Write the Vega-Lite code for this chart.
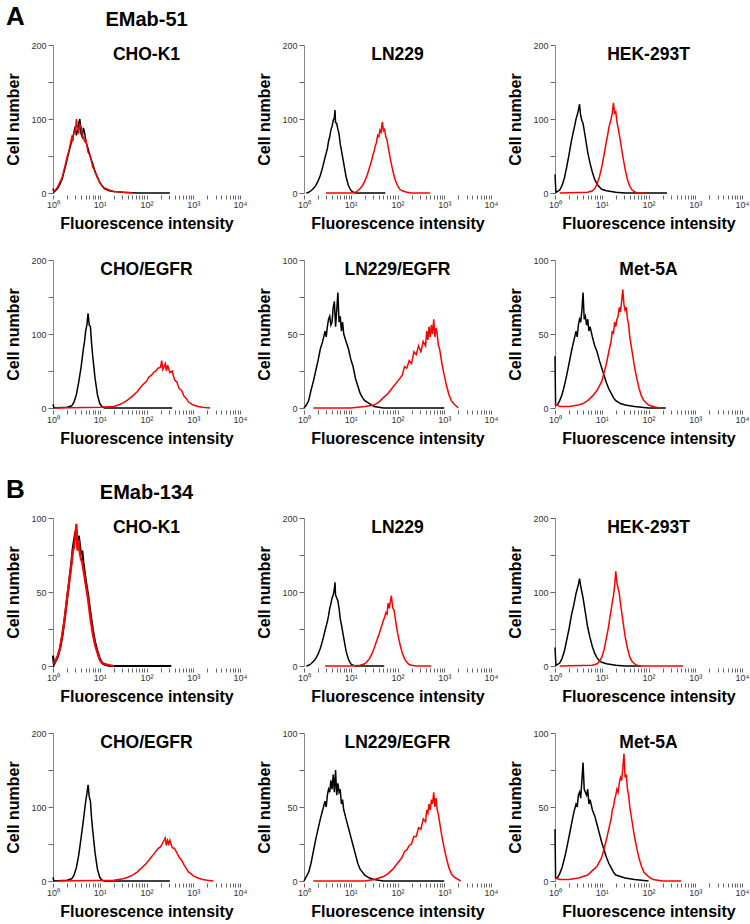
{
"$schema":"https://vega.github.io/schema/vega-lite/v6.json",
"padding":{"left":5,"right":2,"top":3,"bottom":1},
"config":{
 "font":"Liberation Sans",
 "view":{"stroke":null,"continuousWidth":187,"continuousHeight":148},
 "line":{"strokeWidth":1.5},
 "axis":{"grid":false,"labelFont":"Liberation Sans","labelFontSize":9,"labelColor":"#333333","titleFont":"Liberation Sans","titleFontSize":16,"titleFontWeight":"bold","titleColor":"#000000","tickColor":"#666666","domainColor":"#888888"},
 "axisX":{"domain":false,"offset":2,"tickSize":4,"labelPadding":1,"labelFlush":false,"labelOverlap":false,"titlePadding":6},
 "axisY":{"tickSize":5,"labelPadding":2,"titlePadding":9,"labelOverlap":false},
 "title":{"font":"Liberation Sans","fontSize":17.5,"fontWeight":"bold","color":"#000000","anchor":"middle","frame":"group","offset":-22,"subtitleFont":"Liberation Sans","subtitleFontSize":17.5,"subtitleFontWeight":"bold","subtitleColor":"#000000","subtitlePadding":16}
},
"datasets":{
"a1":[{"c":"k","x":1,"y":6},{"c":"k","x":1.047,"y":1},{"c":"k","x":1.122,"y":3},{"c":"k","x":1.259,"y":6},{"c":"k","x":1.413,"y":12},{"c":"k","x":1.585,"y":20},{"c":"k","x":1.778,"y":32},{"c":"k","x":1.995,"y":45},{"c":"k","x":2.239,"y":58},{"c":"k","x":2.512,"y":70},{"c":"k","x":2.661,"y":76},{"c":"k","x":2.818,"y":82},{"c":"k","x":2.985,"y":90},{"c":"k","x":3.162,"y":78},{"c":"k","x":3.35,"y":84},{"c":"k","x":3.548,"y":95},{"c":"k","x":3.758,"y":100},{"c":"k","x":3.981,"y":80},{"c":"k","x":4.217,"y":76},{"c":"k","x":4.467,"y":88},{"c":"k","x":4.732,"y":82},{"c":"k","x":5.012,"y":70},{"c":"k","x":5.623,"y":60},{"c":"k","x":6.31,"y":48},{"c":"k","x":7.079,"y":40},{"c":"k","x":7.943,"y":28},{"c":"k","x":8.913,"y":22},{"c":"k","x":10,"y":14},{"c":"k","x":11.22,"y":10},{"c":"k","x":12.59,"y":6},{"c":"k","x":15.85,"y":3},{"c":"k","x":19.95,"y":2},{"c":"k","x":31.62,"y":1},{"c":"k","x":63.1,"y":0},{"c":"k","x":316,"y":0},
{"c":"r","x":1,"y":2},{"c":"r","x":1.122,"y":4},{"c":"r","x":1.259,"y":8},{"c":"r","x":1.413,"y":15},{"c":"r","x":1.585,"y":22},{"c":"r","x":1.778,"y":35},{"c":"r","x":1.995,"y":48},{"c":"r","x":2.239,"y":60},{"c":"r","x":2.512,"y":75},{"c":"r","x":2.661,"y":70},{"c":"r","x":2.818,"y":85},{"c":"r","x":2.985,"y":80},{"c":"r","x":3.162,"y":100},{"c":"r","x":3.35,"y":86},{"c":"r","x":3.548,"y":82},{"c":"r","x":3.758,"y":92},{"c":"r","x":3.981,"y":90},{"c":"r","x":4.217,"y":78},{"c":"r","x":4.467,"y":75},{"c":"r","x":4.732,"y":70},{"c":"r","x":5.012,"y":72},{"c":"r","x":5.623,"y":55},{"c":"r","x":6.31,"y":50},{"c":"r","x":7.079,"y":35},{"c":"r","x":7.943,"y":30},{"c":"r","x":8.913,"y":20},{"c":"r","x":10,"y":15},{"c":"r","x":11.22,"y":9},{"c":"r","x":12.59,"y":7},{"c":"r","x":15.85,"y":4},{"c":"r","x":19.95,"y":2},{"c":"r","x":31.62,"y":1},{"c":"r","x":50.1,"y":0}],
"a2":[{"c":"k","x":1.122,"y":0},{"c":"k","x":1.259,"y":1},{"c":"k","x":1.413,"y":3},{"c":"k","x":1.585,"y":6},{"c":"k","x":1.778,"y":10},{"c":"k","x":1.995,"y":16},{"c":"k","x":2.239,"y":24},{"c":"k","x":2.512,"y":35},{"c":"k","x":2.818,"y":48},{"c":"k","x":3.162,"y":60},{"c":"k","x":3.35,"y":70},{"c":"k","x":3.548,"y":76},{"c":"k","x":3.758,"y":85},{"c":"k","x":3.981,"y":90},{"c":"k","x":4.217,"y":98},{"c":"k","x":4.467,"y":102},{"c":"k","x":4.6,"y":112},{"c":"k","x":4.732,"y":95},{"c":"k","x":5.012,"y":94},{"c":"k","x":5.309,"y":86},{"c":"k","x":5.623,"y":80},{"c":"k","x":5.957,"y":66},{"c":"k","x":6.31,"y":58},{"c":"k","x":7.079,"y":40},{"c":"k","x":7.943,"y":22},{"c":"k","x":8.913,"y":10},{"c":"k","x":10,"y":4},{"c":"k","x":11.22,"y":1},{"c":"k","x":12.59,"y":0},{"c":"k","x":55,"y":0},
{"c":"r","x":2.95,"y":0},{"c":"r","x":10,"y":0},{"c":"r","x":12.59,"y":1},{"c":"r","x":14.13,"y":3},{"c":"r","x":15.85,"y":6},{"c":"r","x":17.78,"y":10},{"c":"r","x":19.95,"y":16},{"c":"r","x":22.39,"y":24},{"c":"r","x":25.12,"y":34},{"c":"r","x":28.18,"y":45},{"c":"r","x":29.85,"y":52},{"c":"r","x":31.62,"y":56},{"c":"r","x":33.5,"y":64},{"c":"r","x":35.48,"y":68},{"c":"r","x":37.58,"y":78},{"c":"r","x":39.81,"y":76},{"c":"r","x":42.17,"y":85},{"c":"r","x":44.67,"y":82},{"c":"r","x":47.32,"y":96},{"c":"r","x":50.12,"y":84},{"c":"r","x":53.09,"y":86},{"c":"r","x":56.23,"y":76},{"c":"r","x":59.57,"y":72},{"c":"r","x":63.1,"y":62},{"c":"r","x":70.79,"y":45},{"c":"r","x":79.43,"y":30},{"c":"r","x":89.13,"y":18},{"c":"r","x":100,"y":10},{"c":"r","x":112.2,"y":5},{"c":"r","x":125.9,"y":3},{"c":"r","x":158.5,"y":1},{"c":"r","x":199.5,"y":0},{"c":"r","x":500,"y":0}],
"a3":[{"c":"k","x":1,"y":25},{"c":"k","x":1.047,"y":1},{"c":"k","x":1.122,"y":2},{"c":"k","x":1.259,"y":4},{"c":"k","x":1.413,"y":10},{"c":"k","x":1.585,"y":20},{"c":"k","x":1.778,"y":35},{"c":"k","x":1.995,"y":52},{"c":"k","x":2.239,"y":70},{"c":"k","x":2.512,"y":85},{"c":"k","x":2.661,"y":92},{"c":"k","x":2.818,"y":100},{"c":"k","x":2.985,"y":105},{"c":"k","x":3.162,"y":112},{"c":"k","x":3.35,"y":120},{"c":"k","x":3.548,"y":104},{"c":"k","x":3.758,"y":98},{"c":"k","x":3.981,"y":94},{"c":"k","x":4.467,"y":75},{"c":"k","x":5.012,"y":55},{"c":"k","x":5.623,"y":40},{"c":"k","x":6.31,"y":28},{"c":"k","x":7.079,"y":18},{"c":"k","x":7.943,"y":12},{"c":"k","x":8.913,"y":8},{"c":"k","x":10,"y":5},{"c":"k","x":12.59,"y":3},{"c":"k","x":15.85,"y":2},{"c":"k","x":19.95,"y":1},{"c":"k","x":31.62,"y":0},{"c":"k","x":250,"y":0},
{"c":"r","x":1.259,"y":0},{"c":"r","x":5.012,"y":1},{"c":"r","x":6.31,"y":3},{"c":"r","x":7.079,"y":6},{"c":"r","x":7.943,"y":12},{"c":"r","x":8.913,"y":22},{"c":"r","x":10,"y":35},{"c":"r","x":11.22,"y":52},{"c":"r","x":12.59,"y":70},{"c":"r","x":13.34,"y":78},{"c":"r","x":14.13,"y":88},{"c":"r","x":14.96,"y":94},{"c":"r","x":15.85,"y":100},{"c":"r","x":16.79,"y":108},{"c":"r","x":17.78,"y":122},{"c":"r","x":18.84,"y":108},{"c":"r","x":19.95,"y":110},{"c":"r","x":21.13,"y":96},{"c":"r","x":22.39,"y":88},{"c":"r","x":25.12,"y":70},{"c":"r","x":28.18,"y":50},{"c":"r","x":31.62,"y":32},{"c":"r","x":35.48,"y":18},{"c":"r","x":39.81,"y":9},{"c":"r","x":44.67,"y":4},{"c":"r","x":50.12,"y":2},{"c":"r","x":56.23,"y":0},{"c":"r","x":87,"y":0}],
"a4":[{"c":"k","x":1,"y":5},{"c":"k","x":1.047,"y":0},{"c":"k","x":1.995,"y":1},{"c":"k","x":2.512,"y":3},{"c":"k","x":2.818,"y":8},{"c":"k","x":3.162,"y":18},{"c":"k","x":3.548,"y":35},{"c":"k","x":3.981,"y":55},{"c":"k","x":4.467,"y":80},{"c":"k","x":4.732,"y":90},{"c":"k","x":5.012,"y":105},{"c":"k","x":5.309,"y":112},{"c":"k","x":5.623,"y":128},{"c":"k","x":5.957,"y":112},{"c":"k","x":6.31,"y":110},{"c":"k","x":6.683,"y":88},{"c":"k","x":7.079,"y":70},{"c":"k","x":7.943,"y":40},{"c":"k","x":8.913,"y":18},{"c":"k","x":10,"y":6},{"c":"k","x":11.22,"y":2},{"c":"k","x":12.59,"y":0},{"c":"k","x":355,"y":0},
{"c":"r","x":1.122,"y":0},{"c":"r","x":10,"y":1},{"c":"r","x":19.95,"y":2},{"c":"r","x":25.12,"y":4},{"c":"r","x":31.62,"y":7},{"c":"r","x":39.81,"y":11},{"c":"r","x":50.12,"y":16},{"c":"r","x":63.1,"y":22},{"c":"r","x":79.43,"y":30},{"c":"r","x":100,"y":36},{"c":"r","x":112.2,"y":42},{"c":"r","x":125.9,"y":44},{"c":"r","x":141.3,"y":48},{"c":"r","x":158.5,"y":50},{"c":"r","x":177.8,"y":54},{"c":"r","x":199.5,"y":55},{"c":"r","x":211.3,"y":64},{"c":"r","x":223.9,"y":52},{"c":"r","x":251.2,"y":60},{"c":"r","x":266.1,"y":50},{"c":"r","x":281.8,"y":58},{"c":"r","x":316.2,"y":48},{"c":"r","x":354.8,"y":50},{"c":"r","x":398.1,"y":38},{"c":"r","x":446.7,"y":35},{"c":"r","x":501.2,"y":26},{"c":"r","x":562.3,"y":24},{"c":"r","x":631,"y":16},{"c":"r","x":707.9,"y":13},{"c":"r","x":794.3,"y":8},{"c":"r","x":891.3,"y":6},{"c":"r","x":1000,"y":4},{"c":"r","x":1259,"y":2},{"c":"r","x":1585,"y":1},{"c":"r","x":2291,"y":0}],
"a5":[{"c":"k","x":1,"y":0},{"c":"k","x":1.122,"y":2},{"c":"k","x":1.259,"y":5},{"c":"k","x":1.413,"y":12},{"c":"k","x":1.585,"y":18},{"c":"k","x":1.778,"y":25},{"c":"k","x":1.995,"y":32},{"c":"k","x":2.239,"y":40},{"c":"k","x":2.512,"y":45},{"c":"k","x":2.818,"y":52},{"c":"k","x":2.985,"y":48},{"c":"k","x":3.162,"y":55},{"c":"k","x":3.35,"y":60},{"c":"k","x":3.548,"y":62},{"c":"k","x":3.758,"y":56},{"c":"k","x":3.981,"y":58},{"c":"k","x":4.217,"y":68},{"c":"k","x":4.467,"y":72},{"c":"k","x":4.732,"y":55},{"c":"k","x":5.012,"y":66},{"c":"k","x":5.309,"y":78},{"c":"k","x":5.623,"y":58},{"c":"k","x":5.957,"y":62},{"c":"k","x":6.31,"y":52},{"c":"k","x":6.683,"y":58},{"c":"k","x":7.079,"y":50},{"c":"k","x":7.943,"y":45},{"c":"k","x":8.913,"y":40},{"c":"k","x":10,"y":33},{"c":"k","x":11.22,"y":28},{"c":"k","x":12.59,"y":20},{"c":"k","x":14.13,"y":15},{"c":"k","x":15.85,"y":10},{"c":"k","x":17.78,"y":7},{"c":"k","x":19.95,"y":5},{"c":"k","x":25.12,"y":3},{"c":"k","x":31.62,"y":1},{"c":"k","x":50,"y":0},{"c":"k","x":1000,"y":0},
{"c":"r","x":1.585,"y":0},{"c":"r","x":10,"y":0},{"c":"r","x":19.95,"y":1},{"c":"r","x":31.62,"y":2},{"c":"r","x":39.81,"y":4},{"c":"r","x":50.12,"y":7},{"c":"r","x":63.1,"y":10},{"c":"r","x":79.43,"y":14},{"c":"r","x":100,"y":18},{"c":"r","x":125.9,"y":22},{"c":"r","x":141.3,"y":28},{"c":"r","x":158.5,"y":27},{"c":"r","x":177.8,"y":32},{"c":"r","x":199.5,"y":30},{"c":"r","x":223.9,"y":38},{"c":"r","x":251.2,"y":36},{"c":"r","x":281.8,"y":42},{"c":"r","x":316.2,"y":38},{"c":"r","x":354.8,"y":45},{"c":"r","x":398.1,"y":42},{"c":"r","x":421.7,"y":52},{"c":"r","x":446.7,"y":46},{"c":"r","x":473.2,"y":55},{"c":"r","x":501.2,"y":48},{"c":"r","x":531,"y":56},{"c":"r","x":562.3,"y":50},{"c":"r","x":595.7,"y":60},{"c":"r","x":631,"y":48},{"c":"r","x":668,"y":54},{"c":"r","x":707.9,"y":50},{"c":"r","x":750,"y":42},{"c":"r","x":794.3,"y":40},{"c":"r","x":891.3,"y":30},{"c":"r","x":1000,"y":22},{"c":"r","x":1122,"y":15},{"c":"r","x":1259,"y":9},{"c":"r","x":1413,"y":5},{"c":"r","x":1585,"y":3},{"c":"r","x":1995,"y":0}],
"a6":[{"c":"k","x":1,"y":35},{"c":"k","x":1.03,"y":2},{"c":"k","x":1.122,"y":2},{"c":"k","x":1.259,"y":5},{"c":"k","x":1.413,"y":9},{"c":"k","x":1.585,"y":15},{"c":"k","x":1.778,"y":22},{"c":"k","x":1.995,"y":30},{"c":"k","x":2.239,"y":38},{"c":"k","x":2.512,"y":45},{"c":"k","x":2.818,"y":52},{"c":"k","x":2.985,"y":48},{"c":"k","x":3.162,"y":56},{"c":"k","x":3.35,"y":60},{"c":"k","x":3.548,"y":58},{"c":"k","x":3.758,"y":66},{"c":"k","x":3.981,"y":78},{"c":"k","x":4.217,"y":60},{"c":"k","x":4.467,"y":62},{"c":"k","x":4.732,"y":56},{"c":"k","x":5.012,"y":60},{"c":"k","x":5.309,"y":52},{"c":"k","x":5.623,"y":55},{"c":"k","x":6.31,"y":48},{"c":"k","x":7.079,"y":42},{"c":"k","x":7.943,"y":38},{"c":"k","x":8.913,"y":32},{"c":"k","x":10,"y":27},{"c":"k","x":11.22,"y":22},{"c":"k","x":12.59,"y":17},{"c":"k","x":14.13,"y":13},{"c":"k","x":15.85,"y":10},{"c":"k","x":17.78,"y":7},{"c":"k","x":19.95,"y":5},{"c":"k","x":25.12,"y":3},{"c":"k","x":31.62,"y":2},{"c":"k","x":50.12,"y":1},{"c":"k","x":100,"y":0},{"c":"k","x":234,"y":0},
{"c":"r","x":1,"y":3},{"c":"r","x":1.259,"y":1},{"c":"r","x":1.995,"y":1},{"c":"r","x":3.162,"y":2},{"c":"r","x":3.981,"y":3},{"c":"r","x":5.012,"y":5},{"c":"r","x":6.31,"y":8},{"c":"r","x":7.943,"y":12},{"c":"r","x":10,"y":18},{"c":"r","x":11.22,"y":24},{"c":"r","x":12.59,"y":30},{"c":"r","x":14.13,"y":38},{"c":"r","x":15.85,"y":45},{"c":"r","x":16.79,"y":52},{"c":"r","x":17.78,"y":50},{"c":"r","x":18.84,"y":58},{"c":"r","x":19.95,"y":55},{"c":"r","x":21.13,"y":60},{"c":"r","x":22.39,"y":62},{"c":"r","x":23.71,"y":68},{"c":"r","x":25.12,"y":65},{"c":"r","x":26.61,"y":72},{"c":"r","x":28.18,"y":80},{"c":"r","x":29.85,"y":70},{"c":"r","x":31.62,"y":66},{"c":"r","x":33.5,"y":68},{"c":"r","x":35.48,"y":60},{"c":"r","x":37.58,"y":56},{"c":"r","x":39.81,"y":48},{"c":"r","x":44.67,"y":38},{"c":"r","x":50.12,"y":28},{"c":"r","x":56.23,"y":20},{"c":"r","x":63.1,"y":13},{"c":"r","x":70.79,"y":8},{"c":"r","x":79.43,"y":5},{"c":"r","x":100,"y":2},{"c":"r","x":125.9,"y":1},{"c":"r","x":170,"y":0}],
"b1":[{"c":"k","x":1,"y":7},{"c":"k","x":1.047,"y":1},{"c":"k","x":1.122,"y":3},{"c":"k","x":1.259,"y":6},{"c":"k","x":1.413,"y":12},{"c":"k","x":1.585,"y":20},{"c":"k","x":1.778,"y":32},{"c":"k","x":1.995,"y":45},{"c":"k","x":2.239,"y":58},{"c":"k","x":2.512,"y":72},{"c":"k","x":2.661,"y":80},{"c":"k","x":2.818,"y":85},{"c":"k","x":2.985,"y":90},{"c":"k","x":3.162,"y":92},{"c":"k","x":3.35,"y":80},{"c":"k","x":3.548,"y":88},{"c":"k","x":3.758,"y":82},{"c":"k","x":3.981,"y":75},{"c":"k","x":4.217,"y":78},{"c":"k","x":4.467,"y":70},{"c":"k","x":5.012,"y":58},{"c":"k","x":5.623,"y":48},{"c":"k","x":6.31,"y":36},{"c":"k","x":7.079,"y":25},{"c":"k","x":7.943,"y":16},{"c":"k","x":8.913,"y":10},{"c":"k","x":10,"y":5},{"c":"k","x":11.22,"y":2},{"c":"k","x":12.59,"y":1},{"c":"k","x":15.85,"y":0},{"c":"k","x":340,"y":0},
{"c":"r","x":1,"y":2},{"c":"r","x":1.122,"y":3},{"c":"r","x":1.259,"y":7},{"c":"r","x":1.413,"y":12},{"c":"r","x":1.585,"y":22},{"c":"r","x":1.778,"y":32},{"c":"r","x":1.995,"y":46},{"c":"r","x":2.239,"y":58},{"c":"r","x":2.512,"y":70},{"c":"r","x":2.661,"y":78},{"c":"r","x":2.818,"y":80},{"c":"r","x":2.985,"y":88},{"c":"r","x":3.162,"y":96},{"c":"r","x":3.35,"y":78},{"c":"r","x":3.548,"y":85},{"c":"r","x":3.758,"y":76},{"c":"r","x":3.981,"y":72},{"c":"r","x":4.217,"y":70},{"c":"r","x":4.467,"y":65},{"c":"r","x":4.732,"y":60},{"c":"r","x":5.012,"y":55},{"c":"r","x":5.623,"y":45},{"c":"r","x":6.31,"y":32},{"c":"r","x":7.079,"y":22},{"c":"r","x":7.943,"y":14},{"c":"r","x":8.913,"y":9},{"c":"r","x":10,"y":4},{"c":"r","x":11.22,"y":2},{"c":"r","x":14.13,"y":1},{"c":"r","x":19.95,"y":0}],
"b2":[{"c":"k","x":1.122,"y":0},{"c":"k","x":1.259,"y":1},{"c":"k","x":1.413,"y":3},{"c":"k","x":1.585,"y":6},{"c":"k","x":1.778,"y":10},{"c":"k","x":1.995,"y":16},{"c":"k","x":2.239,"y":24},{"c":"k","x":2.512,"y":35},{"c":"k","x":2.818,"y":48},{"c":"k","x":3.162,"y":60},{"c":"k","x":3.35,"y":68},{"c":"k","x":3.548,"y":78},{"c":"k","x":3.758,"y":84},{"c":"k","x":3.981,"y":92},{"c":"k","x":4.217,"y":96},{"c":"k","x":4.467,"y":104},{"c":"k","x":4.6,"y":113},{"c":"k","x":4.732,"y":96},{"c":"k","x":5.012,"y":92},{"c":"k","x":5.309,"y":88},{"c":"k","x":5.623,"y":78},{"c":"k","x":5.957,"y":64},{"c":"k","x":6.31,"y":56},{"c":"k","x":7.079,"y":38},{"c":"k","x":7.943,"y":20},{"c":"k","x":8.913,"y":9},{"c":"k","x":10,"y":3},{"c":"k","x":11.22,"y":1},{"c":"k","x":12.59,"y":0},{"c":"k","x":52,"y":0},
{"c":"r","x":2.82,"y":0},{"c":"r","x":10,"y":0},{"c":"r","x":15.85,"y":1},{"c":"r","x":19.95,"y":3},{"c":"r","x":22.39,"y":6},{"c":"r","x":25.12,"y":10},{"c":"r","x":28.18,"y":16},{"c":"r","x":31.62,"y":24},{"c":"r","x":35.48,"y":33},{"c":"r","x":39.81,"y":42},{"c":"r","x":44.67,"y":52},{"c":"r","x":50.12,"y":62},{"c":"r","x":53.09,"y":66},{"c":"r","x":56.23,"y":72},{"c":"r","x":59.57,"y":70},{"c":"r","x":63.1,"y":85},{"c":"r","x":66.83,"y":78},{"c":"r","x":70.79,"y":88},{"c":"r","x":74,"y":95},{"c":"r","x":79.43,"y":78},{"c":"r","x":84.14,"y":76},{"c":"r","x":89.13,"y":65},{"c":"r","x":100,"y":45},{"c":"r","x":112.2,"y":30},{"c":"r","x":125.9,"y":18},{"c":"r","x":141.3,"y":10},{"c":"r","x":158.5,"y":5},{"c":"r","x":177.8,"y":2},{"c":"r","x":199.5,"y":1},{"c":"r","x":251.2,"y":0},{"c":"r","x":525,"y":0}],
"b3":[{"c":"k","x":1,"y":25},{"c":"k","x":1.047,"y":1},{"c":"k","x":1.122,"y":2},{"c":"k","x":1.259,"y":4},{"c":"k","x":1.413,"y":10},{"c":"k","x":1.585,"y":20},{"c":"k","x":1.778,"y":35},{"c":"k","x":1.995,"y":50},{"c":"k","x":2.239,"y":68},{"c":"k","x":2.512,"y":82},{"c":"k","x":2.661,"y":90},{"c":"k","x":2.818,"y":98},{"c":"k","x":2.985,"y":104},{"c":"k","x":3.162,"y":110},{"c":"k","x":3.35,"y":118},{"c":"k","x":3.548,"y":108},{"c":"k","x":3.758,"y":100},{"c":"k","x":3.981,"y":92},{"c":"k","x":4.467,"y":72},{"c":"k","x":5.012,"y":52},{"c":"k","x":5.623,"y":38},{"c":"k","x":6.31,"y":26},{"c":"k","x":7.079,"y":17},{"c":"k","x":7.943,"y":11},{"c":"k","x":8.913,"y":7},{"c":"k","x":10,"y":5},{"c":"k","x":12.59,"y":3},{"c":"k","x":15.85,"y":2},{"c":"k","x":19.95,"y":1},{"c":"k","x":31.62,"y":0},{"c":"k","x":70,"y":0},
{"c":"r","x":1.259,"y":0},{"c":"r","x":6.31,"y":1},{"c":"r","x":7.943,"y":3},{"c":"r","x":8.913,"y":6},{"c":"r","x":10,"y":12},{"c":"r","x":11.22,"y":22},{"c":"r","x":12.59,"y":38},{"c":"r","x":13.34,"y":46},{"c":"r","x":14.13,"y":55},{"c":"r","x":14.96,"y":66},{"c":"r","x":15.85,"y":75},{"c":"r","x":16.79,"y":86},{"c":"r","x":17.78,"y":95},{"c":"r","x":18.84,"y":108},{"c":"r","x":19.95,"y":128},{"c":"r","x":21.13,"y":112},{"c":"r","x":22.39,"y":105},{"c":"r","x":23.71,"y":98},{"c":"r","x":25.12,"y":85},{"c":"r","x":28.18,"y":62},{"c":"r","x":31.62,"y":40},{"c":"r","x":35.48,"y":24},{"c":"r","x":39.81,"y":12},{"c":"r","x":44.67,"y":6},{"c":"r","x":50.12,"y":3},{"c":"r","x":56.23,"y":1},{"c":"r","x":70.79,"y":0},{"c":"r","x":550,"y":0}],
"b4":[{"c":"k","x":1,"y":5},{"c":"k","x":1.047,"y":0},{"c":"k","x":1.995,"y":1},{"c":"k","x":2.512,"y":3},{"c":"k","x":2.818,"y":8},{"c":"k","x":3.162,"y":18},{"c":"k","x":3.548,"y":35},{"c":"k","x":3.981,"y":58},{"c":"k","x":4.467,"y":82},{"c":"k","x":4.732,"y":95},{"c":"k","x":5.012,"y":108},{"c":"k","x":5.309,"y":118},{"c":"k","x":5.623,"y":130},{"c":"k","x":5.957,"y":114},{"c":"k","x":6.31,"y":108},{"c":"k","x":6.683,"y":85},{"c":"k","x":7.079,"y":68},{"c":"k","x":7.943,"y":38},{"c":"k","x":8.913,"y":16},{"c":"k","x":10,"y":5},{"c":"k","x":11.22,"y":1},{"c":"k","x":12.59,"y":0},{"c":"k","x":316,"y":0},
{"c":"r","x":1.259,"y":0},{"c":"r","x":19.95,"y":1},{"c":"r","x":31.62,"y":3},{"c":"r","x":39.81,"y":5},{"c":"r","x":50.12,"y":8},{"c":"r","x":63.1,"y":12},{"c":"r","x":79.43,"y":18},{"c":"r","x":100,"y":24},{"c":"r","x":125.9,"y":32},{"c":"r","x":141.3,"y":36},{"c":"r","x":158.5,"y":40},{"c":"r","x":177.8,"y":44},{"c":"r","x":199.5,"y":46},{"c":"r","x":223.9,"y":52},{"c":"r","x":251.2,"y":58},{"c":"r","x":266.1,"y":48},{"c":"r","x":281.8,"y":55},{"c":"r","x":298.5,"y":50},{"c":"r","x":316.2,"y":55},{"c":"r","x":354.8,"y":45},{"c":"r","x":398.1,"y":44},{"c":"r","x":446.7,"y":38},{"c":"r","x":501.2,"y":32},{"c":"r","x":562.3,"y":28},{"c":"r","x":631,"y":22},{"c":"r","x":707.9,"y":17},{"c":"r","x":794.3,"y":12},{"c":"r","x":891.3,"y":10},{"c":"r","x":1000,"y":7},{"c":"r","x":1259,"y":4},{"c":"r","x":1585,"y":2},{"c":"r","x":1995,"y":1},{"c":"r","x":2700,"y":0}],
"b5":[{"c":"k","x":1,"y":0},{"c":"k","x":1.122,"y":3},{"c":"k","x":1.259,"y":6},{"c":"k","x":1.413,"y":12},{"c":"k","x":1.585,"y":20},{"c":"k","x":1.778,"y":28},{"c":"k","x":1.995,"y":35},{"c":"k","x":2.239,"y":42},{"c":"k","x":2.512,"y":48},{"c":"k","x":2.818,"y":54},{"c":"k","x":2.985,"y":50},{"c":"k","x":3.162,"y":58},{"c":"k","x":3.35,"y":62},{"c":"k","x":3.548,"y":60},{"c":"k","x":3.758,"y":68},{"c":"k","x":3.981,"y":62},{"c":"k","x":4.217,"y":72},{"c":"k","x":4.467,"y":60},{"c":"k","x":4.732,"y":75},{"c":"k","x":5.012,"y":58},{"c":"k","x":5.309,"y":66},{"c":"k","x":5.623,"y":60},{"c":"k","x":5.957,"y":62},{"c":"k","x":6.31,"y":52},{"c":"k","x":6.683,"y":55},{"c":"k","x":7.079,"y":48},{"c":"k","x":7.943,"y":42},{"c":"k","x":8.913,"y":36},{"c":"k","x":10,"y":30},{"c":"k","x":11.22,"y":24},{"c":"k","x":12.59,"y":18},{"c":"k","x":14.13,"y":12},{"c":"k","x":15.85,"y":8},{"c":"k","x":17.78,"y":6},{"c":"k","x":19.95,"y":4},{"c":"k","x":25.12,"y":2},{"c":"k","x":31.62,"y":1},{"c":"k","x":50,"y":0},{"c":"k","x":1000,"y":0},
{"c":"r","x":1.585,"y":0},{"c":"r","x":19.95,"y":0},{"c":"r","x":31.62,"y":1},{"c":"r","x":50.12,"y":3},{"c":"r","x":63.1,"y":5},{"c":"r","x":79.43,"y":8},{"c":"r","x":100,"y":12},{"c":"r","x":125.9,"y":16},{"c":"r","x":141.3,"y":20},{"c":"r","x":158.5,"y":21},{"c":"r","x":177.8,"y":24},{"c":"r","x":199.5,"y":25},{"c":"r","x":223.9,"y":30},{"c":"r","x":251.2,"y":30},{"c":"r","x":281.8,"y":36},{"c":"r","x":316.2,"y":35},{"c":"r","x":354.8,"y":42},{"c":"r","x":398.1,"y":40},{"c":"r","x":421.7,"y":48},{"c":"r","x":446.7,"y":46},{"c":"r","x":473.2,"y":52},{"c":"r","x":501.2,"y":48},{"c":"r","x":531,"y":55},{"c":"r","x":562.3,"y":52},{"c":"r","x":595.7,"y":60},{"c":"r","x":631,"y":50},{"c":"r","x":668,"y":56},{"c":"r","x":707.9,"y":48},{"c":"r","x":750,"y":45},{"c":"r","x":794.3,"y":40},{"c":"r","x":891.3,"y":30},{"c":"r","x":1000,"y":22},{"c":"r","x":1122,"y":15},{"c":"r","x":1259,"y":9},{"c":"r","x":1413,"y":5},{"c":"r","x":1585,"y":3},{"c":"r","x":2239,"y":0}],
"b6":[{"c":"k","x":1,"y":35},{"c":"k","x":1.03,"y":2},{"c":"k","x":1.122,"y":2},{"c":"k","x":1.259,"y":5},{"c":"k","x":1.413,"y":9},{"c":"k","x":1.585,"y":15},{"c":"k","x":1.778,"y":22},{"c":"k","x":1.995,"y":30},{"c":"k","x":2.239,"y":38},{"c":"k","x":2.512,"y":46},{"c":"k","x":2.818,"y":52},{"c":"k","x":2.985,"y":50},{"c":"k","x":3.162,"y":58},{"c":"k","x":3.35,"y":60},{"c":"k","x":3.548,"y":56},{"c":"k","x":3.758,"y":68},{"c":"k","x":3.981,"y":80},{"c":"k","x":4.217,"y":62},{"c":"k","x":4.467,"y":60},{"c":"k","x":4.732,"y":58},{"c":"k","x":5.012,"y":62},{"c":"k","x":5.309,"y":52},{"c":"k","x":5.623,"y":55},{"c":"k","x":6.31,"y":48},{"c":"k","x":7.079,"y":44},{"c":"k","x":7.943,"y":38},{"c":"k","x":8.913,"y":32},{"c":"k","x":10,"y":26},{"c":"k","x":11.22,"y":21},{"c":"k","x":12.59,"y":16},{"c":"k","x":14.13,"y":12},{"c":"k","x":15.85,"y":9},{"c":"k","x":17.78,"y":6},{"c":"k","x":19.95,"y":4},{"c":"k","x":25.12,"y":3},{"c":"k","x":31.62,"y":2},{"c":"k","x":50.12,"y":1},{"c":"k","x":100,"y":0},
{"c":"r","x":1,"y":2},{"c":"r","x":1.259,"y":1},{"c":"r","x":1.995,"y":1},{"c":"r","x":3.162,"y":2},{"c":"r","x":3.981,"y":3},{"c":"r","x":5.012,"y":4},{"c":"r","x":6.31,"y":7},{"c":"r","x":7.943,"y":10},{"c":"r","x":10,"y":16},{"c":"r","x":11.22,"y":22},{"c":"r","x":12.59,"y":28},{"c":"r","x":14.13,"y":35},{"c":"r","x":15.85,"y":42},{"c":"r","x":16.79,"y":48},{"c":"r","x":17.78,"y":50},{"c":"r","x":18.84,"y":55},{"c":"r","x":19.95,"y":58},{"c":"r","x":21.13,"y":62},{"c":"r","x":22.39,"y":60},{"c":"r","x":23.71,"y":66},{"c":"r","x":25.12,"y":70},{"c":"r","x":26.61,"y":68},{"c":"r","x":28.18,"y":76},{"c":"r","x":29.85,"y":86},{"c":"r","x":31.62,"y":70},{"c":"r","x":33.5,"y":72},{"c":"r","x":35.48,"y":62},{"c":"r","x":37.58,"y":58},{"c":"r","x":39.81,"y":50},{"c":"r","x":44.67,"y":40},{"c":"r","x":50.12,"y":30},{"c":"r","x":56.23,"y":22},{"c":"r","x":63.1,"y":15},{"c":"r","x":70.79,"y":10},{"c":"r","x":79.43,"y":6},{"c":"r","x":100,"y":3},{"c":"r","x":125.9,"y":1},{"c":"r","x":199.5,"y":0},{"c":"r","x":500,"y":0}]
},
"spacing":30,
"vconcat":[
 {"spacing":25,"vconcat":[
 {"title":{"text":"A","anchor":"start","frame":"bounds","fontSize":26,"offset":-20},"spacing":9,"hconcat":[
  {"data":{"name":"a1"},"title":{"text":"EMab-51","subtitle":"CHO-K1","fontSize":20},"mark":"line","encoding":{"x":{"field":"x","type":"quantitative","scale":{"type":"log","domain":[1,10000]},"axis":{"values":[1,2,3,4,5,6,7,8,9,10,20,30,40,50,60,70,80,90,100,200,300,400,500,600,700,800,900,1000,2000,3000,4000,5000,6000,7000,8000,9000,10000],"labelExpr":"datum.value==1?'10⁰':datum.value==10?'10¹':datum.value==100?'10²':datum.value==1000?'10³':datum.value==10000?'10⁴':''","title":"Fluorescence intensity"}},"y":{"field":"y","type":"quantitative","scale":{"domain":[0,200]},"axis":{"values":[0,50,100,150,200],"labelExpr":"datum.value%100?'':datum.label","title":"Cell number"}},"color":{"field":"c","type":"nominal","scale":{"domain":["k","r"],"range":["#000000","#ff0000"]},"legend":null}}},
  {"data":{"name":"a2"},"title":"LN229","mark":"line","encoding":{"x":{"field":"x","type":"quantitative","scale":{"type":"log","domain":[1,10000]},"axis":{"values":[1,2,3,4,5,6,7,8,9,10,20,30,40,50,60,70,80,90,100,200,300,400,500,600,700,800,900,1000,2000,3000,4000,5000,6000,7000,8000,9000,10000],"labelExpr":"datum.value==1?'10⁰':datum.value==10?'10¹':datum.value==100?'10²':datum.value==1000?'10³':datum.value==10000?'10⁴':''","title":"Fluorescence intensity"}},"y":{"field":"y","type":"quantitative","scale":{"domain":[0,200]},"axis":{"values":[0,50,100,150,200],"labelExpr":"datum.value%100?'':datum.label","title":"Cell number"}},"color":{"field":"c","type":"nominal","scale":{"domain":["k","r"],"range":["#000000","#ff0000"]},"legend":null}}},
  {"data":{"name":"a3"},"title":"HEK-293T","mark":"line","encoding":{"x":{"field":"x","type":"quantitative","scale":{"type":"log","domain":[1,10000]},"axis":{"values":[1,2,3,4,5,6,7,8,9,10,20,30,40,50,60,70,80,90,100,200,300,400,500,600,700,800,900,1000,2000,3000,4000,5000,6000,7000,8000,9000,10000],"labelExpr":"datum.value==1?'10⁰':datum.value==10?'10¹':datum.value==100?'10²':datum.value==1000?'10³':datum.value==10000?'10⁴':''","title":"Fluorescence intensity"}},"y":{"field":"y","type":"quantitative","scale":{"domain":[0,200]},"axis":{"values":[0,50,100,150,200],"labelExpr":"datum.value%100?'':datum.label","title":"Cell number"}},"color":{"field":"c","type":"nominal","scale":{"domain":["k","r"],"range":["#000000","#ff0000"]},"legend":null}}}
 ]},
 {"spacing":9,"hconcat":[
  {"data":{"name":"a4"},"title":"CHO/EGFR","mark":"line","encoding":{"x":{"field":"x","type":"quantitative","scale":{"type":"log","domain":[1,10000]},"axis":{"values":[1,2,3,4,5,6,7,8,9,10,20,30,40,50,60,70,80,90,100,200,300,400,500,600,700,800,900,1000,2000,3000,4000,5000,6000,7000,8000,9000,10000],"labelExpr":"datum.value==1?'10⁰':datum.value==10?'10¹':datum.value==100?'10²':datum.value==1000?'10³':datum.value==10000?'10⁴':''","title":"Fluorescence intensity"}},"y":{"field":"y","type":"quantitative","scale":{"domain":[0,200]},"axis":{"values":[0,50,100,150,200],"labelExpr":"datum.value%100?'':datum.label","title":"Cell number"}},"color":{"field":"c","type":"nominal","scale":{"domain":["k","r"],"range":["#000000","#ff0000"]},"legend":null}}},
  {"data":{"name":"a5"},"title":"LN229/EGFR","mark":"line","encoding":{"x":{"field":"x","type":"quantitative","scale":{"type":"log","domain":[1,10000]},"axis":{"values":[1,2,3,4,5,6,7,8,9,10,20,30,40,50,60,70,80,90,100,200,300,400,500,600,700,800,900,1000,2000,3000,4000,5000,6000,7000,8000,9000,10000],"labelExpr":"datum.value==1?'10⁰':datum.value==10?'10¹':datum.value==100?'10²':datum.value==1000?'10³':datum.value==10000?'10⁴':''","title":"Fluorescence intensity"}},"y":{"field":"y","type":"quantitative","scale":{"domain":[0,100]},"axis":{"values":[0,25,50,75,100],"labelExpr":"datum.value%50?'':datum.label","title":"Cell number"}},"color":{"field":"c","type":"nominal","scale":{"domain":["k","r"],"range":["#000000","#ff0000"]},"legend":null}}},
  {"data":{"name":"a6"},"title":"Met-5A","mark":"line","encoding":{"x":{"field":"x","type":"quantitative","scale":{"type":"log","domain":[1,10000]},"axis":{"values":[1,2,3,4,5,6,7,8,9,10,20,30,40,50,60,70,80,90,100,200,300,400,500,600,700,800,900,1000,2000,3000,4000,5000,6000,7000,8000,9000,10000],"labelExpr":"datum.value==1?'10⁰':datum.value==10?'10¹':datum.value==100?'10²':datum.value==1000?'10³':datum.value==10000?'10⁴':''","title":"Fluorescence intensity"}},"y":{"field":"y","type":"quantitative","scale":{"domain":[0,100]},"axis":{"values":[0,25,50,75,100],"labelExpr":"datum.value%50?'':datum.label","title":"Cell number"}},"color":{"field":"c","type":"nominal","scale":{"domain":["k","r"],"range":["#000000","#ff0000"]},"legend":null}}}
 ]}
 ]},
 {"spacing":25,"vconcat":[
 {"title":{"text":"B","anchor":"start","frame":"bounds","fontSize":26,"offset":-20},"spacing":9,"hconcat":[
  {"data":{"name":"b1"},"title":{"text":"EMab-134","subtitle":"CHO-K1","fontSize":20},"mark":{"type":"line","strokeWidth":2.2},"encoding":{"x":{"field":"x","type":"quantitative","scale":{"type":"log","domain":[1,10000]},"axis":{"values":[1,2,3,4,5,6,7,8,9,10,20,30,40,50,60,70,80,90,100,200,300,400,500,600,700,800,900,1000,2000,3000,4000,5000,6000,7000,8000,9000,10000],"labelExpr":"datum.value==1?'10⁰':datum.value==10?'10¹':datum.value==100?'10²':datum.value==1000?'10³':datum.value==10000?'10⁴':''","title":"Fluorescence intensity"}},"y":{"field":"y","type":"quantitative","scale":{"domain":[0,100]},"axis":{"values":[0,25,50,75,100],"labelExpr":"datum.value%50?'':datum.label","title":"Cell number"}},"color":{"field":"c","type":"nominal","scale":{"domain":["k","r"],"range":["#000000","#ff0000"]},"legend":null}}},
  {"data":{"name":"b2"},"title":"LN229","mark":"line","encoding":{"x":{"field":"x","type":"quantitative","scale":{"type":"log","domain":[1,10000]},"axis":{"values":[1,2,3,4,5,6,7,8,9,10,20,30,40,50,60,70,80,90,100,200,300,400,500,600,700,800,900,1000,2000,3000,4000,5000,6000,7000,8000,9000,10000],"labelExpr":"datum.value==1?'10⁰':datum.value==10?'10¹':datum.value==100?'10²':datum.value==1000?'10³':datum.value==10000?'10⁴':''","title":"Fluorescence intensity"}},"y":{"field":"y","type":"quantitative","scale":{"domain":[0,200]},"axis":{"values":[0,50,100,150,200],"labelExpr":"datum.value%100?'':datum.label","title":"Cell number"}},"color":{"field":"c","type":"nominal","scale":{"domain":["k","r"],"range":["#000000","#ff0000"]},"legend":null}}},
  {"data":{"name":"b3"},"title":"HEK-293T","mark":"line","encoding":{"x":{"field":"x","type":"quantitative","scale":{"type":"log","domain":[1,10000]},"axis":{"values":[1,2,3,4,5,6,7,8,9,10,20,30,40,50,60,70,80,90,100,200,300,400,500,600,700,800,900,1000,2000,3000,4000,5000,6000,7000,8000,9000,10000],"labelExpr":"datum.value==1?'10⁰':datum.value==10?'10¹':datum.value==100?'10²':datum.value==1000?'10³':datum.value==10000?'10⁴':''","title":"Fluorescence intensity"}},"y":{"field":"y","type":"quantitative","scale":{"domain":[0,200]},"axis":{"values":[0,50,100,150,200],"labelExpr":"datum.value%100?'':datum.label","title":"Cell number"}},"color":{"field":"c","type":"nominal","scale":{"domain":["k","r"],"range":["#000000","#ff0000"]},"legend":null}}}
 ]},
 {"spacing":9,"hconcat":[
  {"data":{"name":"b4"},"title":"CHO/EGFR","mark":"line","encoding":{"x":{"field":"x","type":"quantitative","scale":{"type":"log","domain":[1,10000]},"axis":{"values":[1,2,3,4,5,6,7,8,9,10,20,30,40,50,60,70,80,90,100,200,300,400,500,600,700,800,900,1000,2000,3000,4000,5000,6000,7000,8000,9000,10000],"labelExpr":"datum.value==1?'10⁰':datum.value==10?'10¹':datum.value==100?'10²':datum.value==1000?'10³':datum.value==10000?'10⁴':''","title":"Fluorescence intensity"}},"y":{"field":"y","type":"quantitative","scale":{"domain":[0,200]},"axis":{"values":[0,50,100,150,200],"labelExpr":"datum.value%100?'':datum.label","title":"Cell number"}},"color":{"field":"c","type":"nominal","scale":{"domain":["k","r"],"range":["#000000","#ff0000"]},"legend":null}}},
  {"data":{"name":"b5"},"title":"LN229/EGFR","mark":"line","encoding":{"x":{"field":"x","type":"quantitative","scale":{"type":"log","domain":[1,10000]},"axis":{"values":[1,2,3,4,5,6,7,8,9,10,20,30,40,50,60,70,80,90,100,200,300,400,500,600,700,800,900,1000,2000,3000,4000,5000,6000,7000,8000,9000,10000],"labelExpr":"datum.value==1?'10⁰':datum.value==10?'10¹':datum.value==100?'10²':datum.value==1000?'10³':datum.value==10000?'10⁴':''","title":"Fluorescence intensity"}},"y":{"field":"y","type":"quantitative","scale":{"domain":[0,100]},"axis":{"values":[0,25,50,75,100],"labelExpr":"datum.value%50?'':datum.label","title":"Cell number"}},"color":{"field":"c","type":"nominal","scale":{"domain":["k","r"],"range":["#000000","#ff0000"]},"legend":null}}},
  {"data":{"name":"b6"},"title":"Met-5A","mark":"line","encoding":{"x":{"field":"x","type":"quantitative","scale":{"type":"log","domain":[1,10000]},"axis":{"values":[1,2,3,4,5,6,7,8,9,10,20,30,40,50,60,70,80,90,100,200,300,400,500,600,700,800,900,1000,2000,3000,4000,5000,6000,7000,8000,9000,10000],"labelExpr":"datum.value==1?'10⁰':datum.value==10?'10¹':datum.value==100?'10²':datum.value==1000?'10³':datum.value==10000?'10⁴':''","title":"Fluorescence intensity"}},"y":{"field":"y","type":"quantitative","scale":{"domain":[0,100]},"axis":{"values":[0,25,50,75,100],"labelExpr":"datum.value%50?'':datum.label","title":"Cell number"}},"color":{"field":"c","type":"nominal","scale":{"domain":["k","r"],"range":["#000000","#ff0000"]},"legend":null}}}
 ]}
 ]}
]
}
